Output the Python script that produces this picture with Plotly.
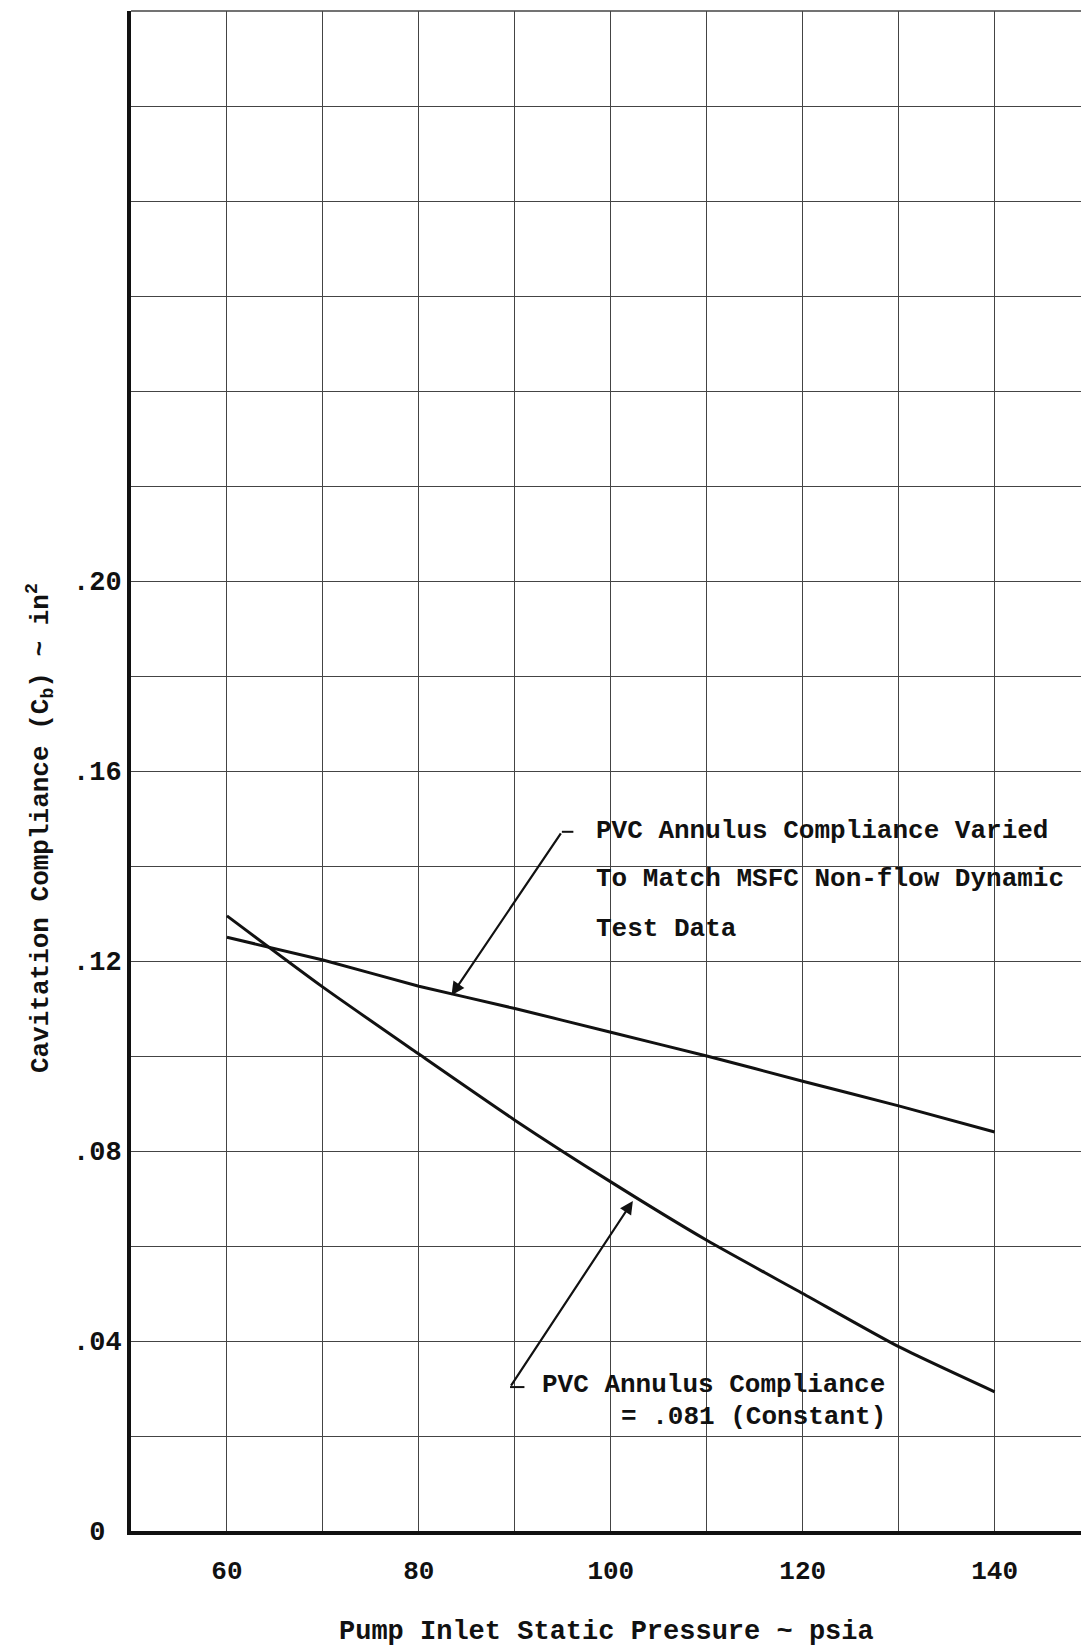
import plotly.graph_objects as go

# ---- data ----
pressure = [60, 70, 80, 90, 100, 110, 120, 130, 140]
varied_compliance = [0.125, 0.1202, 0.1147, 0.110, 0.105, 0.100, 0.0947, 0.0895, 0.084]
constant_compliance = [0.1295, 0.1145, 0.1004, 0.0865, 0.0735, 0.0612, 0.050, 0.0388, 0.0293]

x_grid = [60, 70, 80, 90, 100, 110, 120, 130, 140]
x_ticktext = ["60", "", "80", "", "100", "", "120", "", "140"]
y_grid = [0.0, 0.02, 0.04, 0.06, 0.08, 0.10, 0.12, 0.14, 0.16, 0.18, 0.20,
          0.22, 0.24, 0.26, 0.28, 0.30, 0.32]
y_ticktext = ["0\u00a0", "", ".04", "", ".08", "", ".12", "", ".16", "", ".20",
              "", "", "", "", "", ""]

x_title = "Pump Inlet Static Pressure ~ psia"
y_title = "Cavitation Compliance (C<sub>b</sub>) ~ in<sup>2</sup>"
note_varied = ["PVC Annulus Compliance Varied",
               "To Match MSFC Non-flow Dynamic",
               "Test Data"]
note_constant = ["PVC Annulus Compliance", "= .081 (Constant)"]

FONT = "Liberation Mono"
INK = "#111111"
GRID = "#444444"


def tfont(size):
    return dict(family=FONT, size=size, color=INK, weight="bold")


fig = go.Figure()
fig.add_trace(go.Scatter(x=pressure, y=varied_compliance, mode="lines",
                         line=dict(color=INK, width=3, shape="spline", smoothing=0.4),
                         showlegend=False, hoverinfo="skip"))
fig.add_trace(go.Scatter(x=pressure, y=constant_compliance, mode="lines",
                         line=dict(color=INK, width=3, shape="spline", smoothing=0.6),
                         showlegend=False, hoverinfo="skip"))

annotations = []
# arrow to the "varied" curve
annotations.append(dict(x=83.4, y=0.1128, xref="x", yref="y", ax=94.9, ay=0.1472,
                        axref="x", ayref="y", text="", showarrow=True,
                        arrowhead=2, arrowsize=1.2, arrowwidth=2.2, arrowcolor=INK))
# arrow to the "constant" curve
annotations.append(dict(x=102.3, y=0.0695, xref="x", yref="y", ax=89.5, ay=0.0303,
                        axref="x", ayref="y", text="", showarrow=True,
                        arrowhead=2, arrowsize=1.2, arrowwidth=2.2, arrowcolor=INK))

for txt, yy in zip(note_varied, [0.1474, 0.1373, 0.1268]):
    annotations.append(dict(x=98.3, y=yy, xref="x", yref="y", text=txt,
                            showarrow=False, xanchor="left", yanchor="middle",
                            font=tfont(26)))
annotations.append(dict(x=92.6, y=0.0307, xref="x", yref="y", text=note_constant[0],
                        showarrow=False, xanchor="left", yanchor="middle",
                        font=tfont(26)))
annotations.append(dict(x=128.9, y=0.0241, xref="x", yref="y", text=note_constant[1],
                        showarrow=False, xanchor="right", yanchor="middle",
                        font=tfont(26)))

annotations.append(dict(x=0.5, y=-0.0665, xref="paper", yref="paper", text=x_title,
                        showarrow=False, xanchor="center", yanchor="middle",
                        font=tfont(27)))
annotations.append(dict(x=-0.0957, y=0.4625, xref="paper", yref="paper", text=y_title,
                        showarrow=False, xanchor="center", yanchor="middle", textangle=-90,
                        font=tfont(26)))

shapes = [
    # top border of the grid
    dict(type="line", xref="paper", yref="paper", x0=0, x1=1, y0=1, y1=1,
         line=dict(color=GRID, width=1.5)),
    # short dashes at the arrow tails
    dict(type="line", xref="x", yref="y", x0=94.9, x1=96.1, y0=0.1472, y1=0.1472,
         line=dict(color=INK, width=2)),
    dict(type="line", xref="x", yref="y", x0=89.5, x1=91.0, y0=0.0303, y1=0.0303,
         line=dict(color=INK, width=2)),
]

fig.update_layout(
    width=1081, height=1648,
    margin=dict(l=131, r=0, t=11, b=117, pad=0),
    paper_bgcolor="white", plot_bgcolor="white",
    annotations=annotations, shapes=shapes,
    xaxis=dict(range=[50, 149], tickmode="array", tickvals=x_grid, ticktext=x_ticktext,
               showgrid=True, gridcolor=GRID, gridwidth=1.2, zeroline=False,
               showline=True, linecolor=INK, linewidth=4, ticks="",
               ticklabelstandoff=13,
               tickfont=tfont(26)),
    yaxis=dict(range=[0, 0.32], tickmode="array", tickvals=y_grid, ticktext=y_ticktext,
               showgrid=True, gridcolor=GRID, gridwidth=1.2, zeroline=False,
               showline=True, linecolor=INK, linewidth=4, ticks="",
               ticklabelstandoff=0,
               tickfont=tfont(27)),
)

fig.write_html("out.html")
